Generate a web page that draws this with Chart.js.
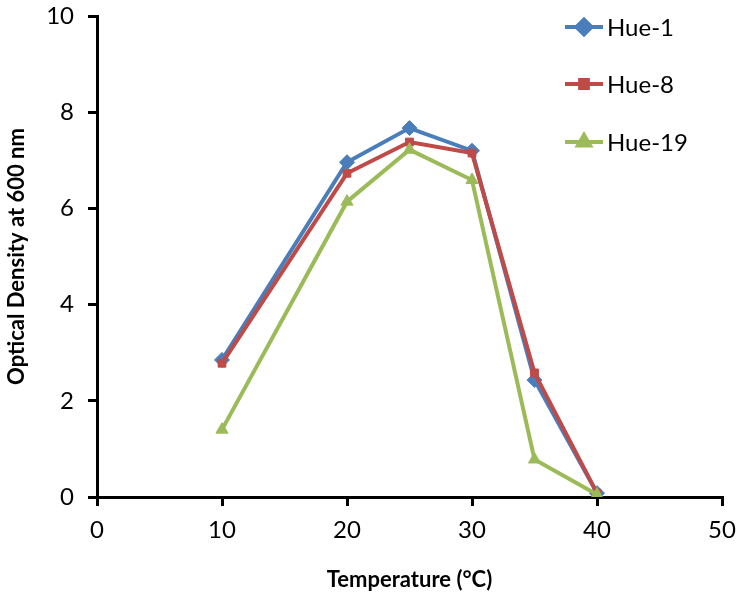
<!DOCTYPE html>
<html>
<head>
<meta charset="utf-8">
<script src="https://cdn.jsdelivr.net/npm/chart.js@4"></script>
<style>
  html, body { margin: 0; padding: 0; background: #fff; }
  #wrap { width: 740px; height: 597px; position: relative; }
</style>
</head>
<body>
<div id="wrap"><canvas id="odChart"></canvas></div>
<script>
// Datos
const temperatures = [10, 20, 25, 30, 35, 40];
const hue1 = [2.85, 6.96, 7.67, 7.20, 2.43, 0.08];
const hue8 = [2.78, 6.73, 7.38, 7.15, 2.58, 0.08];
const hue19 = [1.40, 6.14, 7.22, 6.59, 0.78, 0.05];
const seriesNames = ['Hue-1', 'Hue-8', 'Hue-19'];
const xTicks = [0, 10, 20, 30, 40, 50];
const yTicks = [0, 2, 4, 6, 8, 10];

const FONT = 'Lato, "Liberation Sans", sans-serif';

function toPoints(values) {
    return temperatures.map((t, i) => ({ x: t, y: values[i] }));
}

// Leyenda dibujada a mano (línea + marcador + texto)
const sideLegend = {
    id: 'sideLegend',
    afterDraw(chart) {
        const ctx = chart.ctx;
        const rows = [27, 84, 142];
        chart.data.datasets.forEach((ds, i) => {
            const y = rows[i];
            ctx.save();
            ctx.strokeStyle = ds.borderColor;
            ctx.lineWidth = 4;
            ctx.beginPath();
            ctx.moveTo(565, y);
            ctx.lineTo(603, y);
            ctx.stroke();
            Chart.helpers.drawPoint(ctx, {
                pointStyle: ds.pointStyle,
                radius: ds.pointRadius,
                rotation: 0,
                borderWidth: 1
            }, 584, y);
            ctx.fillStyle = ds.borderColor;
            ctx.fill();
            ctx.fillStyle = '#000';
            ctx.font = '24px ' + FONT;
            ctx.textBaseline = 'middle';
            ctx.fillText(ds.label, 607, y + 1);
            ctx.restore();
        });
    }
};

const colors = ['#4A7EBB', '#BE4B48', '#9BBB59'];
const styles = ['rectRot', 'rect', 'triangle'];
const radii = [7.5, 5.5, 7];
const allValues = [hue1, hue8, hue19];

new Chart(document.getElementById('odChart'), {
    type: 'line',
    data: {
        datasets: allValues.map((vals, i) => ({
            label: seriesNames[i],
            data: toPoints(vals),
            borderColor: colors[i],
            backgroundColor: colors[i],
            pointBackgroundColor: colors[i],
            pointBorderColor: colors[i],
            pointStyle: styles[i],
            pointRadius: radii[i],
            pointBorderWidth: 1,
            borderWidth: 4,
            tension: 0,
            fill: false,
            order: 3 - i
        }))
    },
    options: {
        responsive: true,
        maintainAspectRatio: false,
        animation: false,
        layout: { padding: { left: 0, right: 18, top: 16, bottom: 0 } },
        plugins: {
            legend: { display: false },
            tooltip: { enabled: false }
        },
        scales: {
            x: {
                type: 'linear',
                min: 0,
                max: 50,
                afterBuildTicks(axis) { axis.ticks = xTicks.map(v => ({ value: v })); },
                afterFit(axis) {
                    axis.height = 100;
                    axis.paddingLeft = 0;
                    axis.paddingRight = 0;
                },
                border: { display: true, color: '#000', width: 3 },
                grid: { drawOnChartArea: false, drawTicks: true, tickLength: 9, color: '#000', lineWidth: 3 },
                ticks: { color: '#000', padding: 10, font: { family: FONT, size: 24 } },
                title: {
                    display: true,
                    text: 'Temperature (°C)',
                    color: '#000',
                    font: { family: FONT, size: 22, weight: 'bold' },
                    padding: { top: 14 }
                }
            },
            y: {
                min: 0,
                max: 10,
                afterBuildTicks(axis) { axis.ticks = yTicks.map(v => ({ value: v })); },
                afterFit(axis) {
                    axis.width = 97;
                    axis.paddingTop = 0;
                    axis.paddingBottom = 0;
                },
                border: { display: true, color: '#000', width: 3 },
                grid: { drawOnChartArea: false, drawTicks: true, tickLength: 9, color: '#000', lineWidth: 3 },
                ticks: { color: '#000', padding: 14, font: { family: FONT, size: 24 } },
                title: {
                    display: true,
                    text: 'Optical Density at 600 nm',
                    color: '#000',
                    font: { family: FONT, size: 22, weight: 'bold' },
                    padding: { bottom: 4 }
                }
            }
        }
    },
    plugins: [sideLegend]
});
</script>
</body>
</html>
